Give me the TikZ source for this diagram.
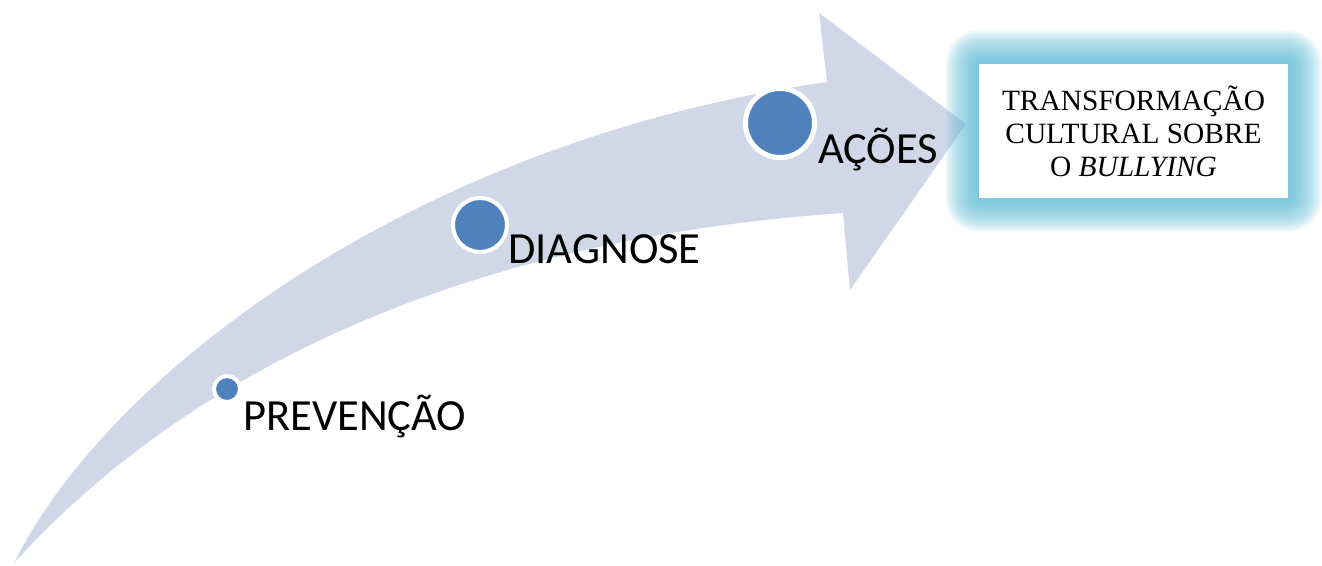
\documentclass[tikz,border=0pt]{standalone}
\usepackage{fontspec}
\setmainfont{Liberation Serif}
\newfontfamily\stepfont{Carlito}
\definecolor{arrowfill}{RGB}{208,216,232}
\definecolor{dotblue}{RGB}{79,129,189}
\definecolor{glowteal}{RGB}{118,196,218}
\begin{document}
\begin{tikzpicture}[x=1pt,y=-1pt,
  dot/.style={circle, draw=white, fill=dotblue, inner sep=0pt, outer sep=0pt},
  steplabel/.style={anchor=base west, inner sep=0pt, font=\stepfont\fontsize{44.5}{50}\selectfont},
  resultbox/.style={fill=white, minimum width=309pt, minimum height=134pt, inner sep=0pt,
    align=center, font=\fontsize{29.4}{33}\selectfont}]
\useasboundingbox (0,0) rectangle (1322,565);

% curved block arrow
\fill[arrowfill] (14,563) .. controls (110,370) and (420,140) .. (827,82)
  -- (819,13) -- (966,124) -- (850,290) -- (843,213)
  .. controls (450,240) and (180,380) .. (14,563) -- cycle;

% soft glow around the result box
\foreach \d in {34,33,...,1}
  \fill[glowteal, opacity=0.06, rounded corners=\d pt]
    ({979-\d},{64-\d}) rectangle ({1288+\d},{198+\d});
\foreach \d in {14,12,...,2}
  \fill[glowteal, opacity=0.08, rounded corners=\d pt]
    ({979-\d},{64-\d}) rectangle ({1288+\d},{198+\d});

\node[resultbox] (result) at (1133.5,131) {TRANSFORMAÇÃO\\CULTURAL SOBRE\\O \textit{BULLYING}};

% steps along the arrow
\node[dot, line width=4pt, minimum size=26pt] (d1) at (227,389) {};
\node[dot, line width=4pt, minimum size=54pt] (d2) at (480,225) {};
\node[dot, line width=5pt, minimum size=69pt] (d3) at (780,123) {};

\node[steplabel] (l1) at (243,430) {PREVENÇÃO};
\node[steplabel] (l2) at (508,263) {DIAGNOSE};
\node[steplabel] (l3) at (818,163) {AÇÕES};
\end{tikzpicture}
\end{document}
